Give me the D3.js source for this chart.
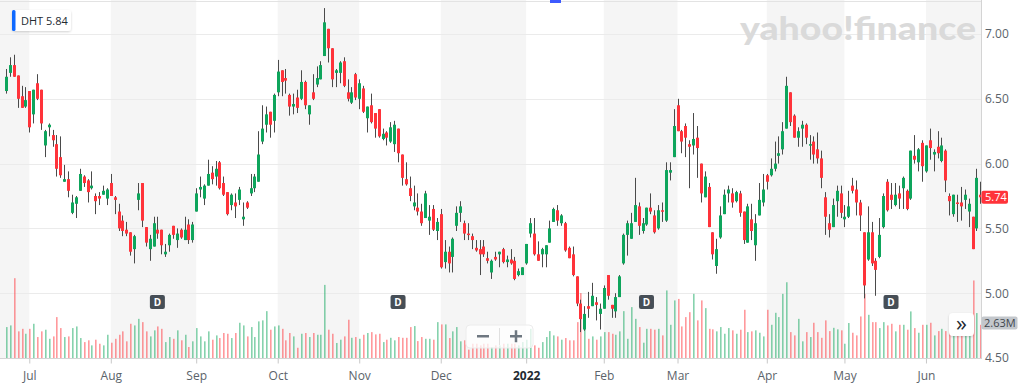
<!DOCTYPE html>
<html><head><meta charset="utf-8">
<script src="https://cdn.jsdelivr.net/npm/d3@7"></script>
<style>
html,body{margin:0;padding:0;background:#fff;}
svg{display:block;font-family:"Open Sans","Noto Sans",sans-serif;}
</style></head><body>
<svg id="chart" width="1024" height="386"></svg>
<script>
const symbol = "DHT";
const legendPrice = 5.84;
const lastPrice = 5.74;
const lastVolumeLabel = "2.63M";
const opens = [6.56,6.70,6.76,6.68,6.52,6.44,6.56,6.38,6.62,6.57,
6.14,6.28,6.22,6.15,6.05,5.86,5.88,5.62,5.69,5.79,
5.90,5.87,5.81,5.75,5.75,5.76,5.73,5.85,5.74,5.63,
5.56,5.49,5.47,5.34,5.72,5.85,5.51,5.34,5.36,5.49,
5.49,5.30,5.37,5.52,5.41,5.49,5.41,5.53,5.41,5.63,
5.80,5.73,5.83,5.93,5.90,6.01,5.85,5.78,5.68,5.70,
5.72,5.57,5.70,5.77,5.81,5.86,6.17,6.30,6.40,6.33,
6.55,6.72,6.66,6.53,6.44,6.51,6.50,6.63,6.38,6.55,
6.61,6.65,6.83,7.04,6.89,6.70,6.70,6.79,6.55,6.47,
6.69,6.50,6.58,6.35,6.45,6.39,6.42,6.19,6.24,6.17,
6.15,6.27,6.07,5.88,5.81,5.67,5.66,5.63,5.58,5.56,
5.65,5.48,5.61,5.24,5.32,5.28,5.52,5.62,5.54,5.46,
5.44,5.35,5.34,5.36,5.27,5.16,5.28,5.30,5.34,5.24,
5.26,5.25,5.14,5.14,5.23,5.46,5.46,5.30,5.30,5.30,
5.39,5.55,5.64,5.54,5.54,5.35,5.30,5.13,4.92,4.72,
4.90,4.90,4.93,4.84,4.88,5.14,4.91,4.86,4.97,5.23,
5.45,5.42,5.55,5.67,5.48,5.53,5.66,5.60,5.50,5.64,
5.56,5.93,6.05,6.45,6.25,6.29,6.15,6.14,6.20,6.00,
5.74,5.82,5.47,5.21,5.43,5.61,5.77,5.77,5.71,5.77,
5.63,5.39,5.57,5.37,5.60,5.70,5.91,5.91,5.96,6.06,
6.11,6.27,6.55,6.37,6.20,6.27,6.30,6.14,6.17,6.11,
6.04,5.74,5.54,5.51,5.71,5.77,5.57,5.59,5.83,5.80,
5.70,5.47,5.26,5.47,5.25,5.28,5.51,5.86,5.76,5.68,
5.77,5.81,5.79,5.73,6.06,6.01,6.16,5.94,6.18,6.07,
6.13,6.02,6.10,5.75,5.61,5.70,5.70,5.72,5.63,5.59,
5.50,5.76];
const highs = [6.73,6.82,6.84,6.68,6.60,6.59,6.56,6.57,6.69,6.57,
6.26,6.31,6.26,6.22,6.21,5.99,5.94,5.76,5.75,5.96,
5.91,5.88,5.94,5.77,5.78,5.83,5.81,5.92,5.75,5.69,
5.60,5.55,5.47,5.45,5.85,5.85,5.51,5.45,5.59,5.59,
5.49,5.38,5.46,5.52,5.50,5.50,5.59,5.57,5.55,5.81,
5.90,5.84,6.03,5.98,6.02,6.02,5.90,5.78,5.77,5.77,
5.82,5.70,5.71,5.92,5.92,6.25,6.45,6.44,6.40,6.54,
6.80,6.72,6.73,6.54,6.54,6.57,6.72,6.64,6.45,6.69,
6.75,6.79,7.20,7.04,6.89,6.73,6.79,6.82,6.65,6.59,
6.70,6.65,6.60,6.44,6.54,6.39,6.42,6.27,6.25,6.32,
6.33,6.27,6.07,6.01,5.90,5.83,5.77,5.69,5.79,5.68,
5.68,5.58,5.65,5.41,5.36,5.43,5.67,5.71,5.56,5.54,
5.46,5.41,5.41,5.41,5.32,5.26,5.32,5.32,5.35,5.29,
5.34,5.28,5.19,5.20,5.38,5.58,5.58,5.40,5.35,5.37,
5.56,5.66,5.68,5.61,5.55,5.36,5.36,5.13,4.95,4.90,
5.01,5.08,4.97,4.92,5.06,5.14,4.91,5.00,5.14,5.46,
5.56,5.62,5.89,5.70,5.58,5.66,5.77,5.64,5.68,5.70,
6.01,6.01,6.42,6.50,6.26,6.31,6.18,6.39,6.29,6.00,
5.94,5.85,5.47,5.42,5.67,5.80,5.83,5.81,5.79,5.79,
5.63,5.69,5.69,5.61,5.85,5.92,5.92,6.04,6.17,6.21,
6.32,6.67,6.55,6.38,6.28,6.33,6.31,6.22,6.21,6.24,
6.10,5.78,5.61,5.73,5.83,5.83,5.68,5.79,5.89,5.87,
5.72,5.47,5.67,5.55,5.27,5.58,5.77,5.88,5.85,5.85,
5.83,5.90,5.80,6.10,6.22,6.12,6.18,6.14,6.27,6.11,
6.25,6.20,6.11,5.77,5.76,5.76,5.82,5.80,5.73,5.59,
5.96,5.86];
const lows = [6.54,6.67,6.67,6.43,6.43,6.43,6.24,6.31,6.49,6.26,
6.05,6.21,6.13,5.90,5.89,5.86,5.74,5.61,5.58,5.79,
5.82,5.70,5.80,5.61,5.68,5.76,5.68,5.75,5.61,5.48,
5.44,5.44,5.29,5.23,5.64,5.51,5.36,5.25,5.36,5.42,
5.30,5.28,5.32,5.42,5.35,5.42,5.41,5.38,5.39,5.63,
5.74,5.68,5.83,5.84,5.83,5.80,5.75,5.60,5.64,5.58,
5.68,5.52,5.65,5.75,5.78,5.86,6.15,6.24,6.20,6.24,
6.52,6.52,6.54,6.37,6.38,6.39,6.49,6.42,6.30,6.49,
6.59,6.65,6.83,6.78,6.59,6.59,6.62,6.59,6.48,6.46,
6.49,6.42,6.39,6.24,6.31,6.20,6.20,6.18,6.14,6.16,
6.09,6.01,5.83,5.83,5.71,5.64,5.60,5.52,5.58,5.45,
5.48,5.41,5.19,5.19,5.16,5.16,5.48,5.55,5.41,5.41,
5.34,5.32,5.14,5.28,5.23,5.11,5.25,5.20,5.23,5.20,
5.22,5.10,5.13,5.14,5.22,5.43,5.29,5.25,5.20,5.20,
5.39,5.55,5.52,5.52,5.32,5.27,5.13,4.90,4.70,4.71,
4.81,4.90,4.79,4.72,4.88,4.95,4.81,4.81,4.97,5.22,
5.29,5.42,5.55,5.45,5.46,5.52,5.61,5.46,5.49,5.55,
5.55,5.87,6.05,6.25,6.08,6.05,5.81,6.07,5.89,5.70,
5.74,5.51,5.26,5.15,5.42,5.61,5.70,5.66,5.70,5.59,
5.38,5.39,5.41,5.25,5.60,5.67,5.80,5.90,5.94,6.00,
6.07,6.27,6.29,6.20,6.13,6.13,6.15,6.03,6.00,6.00,
5.81,5.45,5.43,5.51,5.59,5.58,5.51,5.58,5.77,5.60,
5.48,4.96,5.25,5.21,4.98,5.27,5.50,5.63,5.65,5.67,
5.65,5.65,5.64,5.72,6.00,5.94,5.86,5.93,6.03,5.94,
6.04,6.01,5.78,5.60,5.59,5.55,5.56,5.65,5.51,5.34,
5.48,5.69];
const closes = [6.67,6.76,6.67,6.50,6.43,6.49,6.28,6.57,6.50,6.31,
6.25,6.30,6.18,5.96,5.91,5.88,5.79,5.70,5.74,5.92,
5.85,5.78,5.83,5.71,5.73,5.79,5.80,5.75,5.72,5.50,
5.48,5.46,5.32,5.44,5.77,5.56,5.39,5.42,5.54,5.46,
5.37,5.32,5.45,5.45,5.46,5.43,5.49,5.41,5.53,5.77,
5.82,5.83,5.92,5.88,5.96,5.81,5.76,5.61,5.76,5.67,
5.80,5.59,5.66,5.81,5.90,6.07,6.27,6.38,6.30,6.53,
6.71,6.63,6.64,6.44,6.46,6.43,6.63,6.45,6.45,6.50,
6.66,6.76,7.09,6.89,6.65,6.72,6.78,6.60,6.50,6.55,
6.51,6.62,6.40,6.44,6.32,6.27,6.21,6.23,6.20,6.28,
6.30,6.08,5.89,5.84,5.75,5.70,5.63,5.54,5.77,5.59,
5.49,5.55,5.20,5.32,5.23,5.42,5.62,5.67,5.46,5.45,
5.41,5.33,5.30,5.30,5.25,5.25,5.26,5.32,5.24,5.26,
5.23,5.11,5.17,5.20,5.38,5.54,5.30,5.25,5.34,5.37,
5.50,5.65,5.56,5.60,5.33,5.27,5.14,4.92,4.80,4.84,
4.88,4.98,4.91,4.88,5.04,4.98,4.88,4.97,5.13,5.45,
5.54,5.54,5.68,5.52,5.54,5.66,5.63,5.47,5.64,5.63,
5.95,5.95,6.29,6.25,6.17,6.20,6.13,6.19,6.12,5.77,
5.90,5.51,5.30,5.34,5.60,5.76,5.80,5.70,5.78,5.62,
5.41,5.67,5.48,5.54,5.72,5.80,5.86,5.96,6.00,6.08,
6.25,6.60,6.32,6.20,6.25,6.30,6.20,6.15,6.07,6.04,
5.89,5.59,5.49,5.68,5.79,5.62,5.59,5.67,5.79,5.70,
5.60,5.06,5.47,5.23,5.18,5.45,5.75,5.64,5.72,5.76,
5.73,5.89,5.65,6.10,6.03,6.11,5.98,6.14,6.12,6.09,
6.08,6.14,5.87,5.71,5.76,5.69,5.67,5.76,5.69,5.34,
5.89,5.74];
// volume in millions of shares
const volumes = [2.45,2.58,6.32,2.11,2.31,1.92,2.31,2.71,1.66,2.11,
2.24,1.52,1.71,3.24,2.37,1.66,1.71,2.37,2.50,1.58,
1.26,1.40,1.00,1.45,1.13,1.00,1.84,1.21,1.52,1.84,
2.11,1.32,2.71,2.58,3.10,2.84,2.11,1.71,2.19,2.50,
2.31,1.26,1.66,1.52,2.19,1.40,1.84,0.87,1.32,2.37,
1.71,1.32,2.11,1.45,1.79,1.58,1.98,1.92,1.58,1.98,
2.79,2.58,1.71,2.45,1.66,2.90,2.98,3.71,2.24,2.50,
2.58,2.31,1.40,1.98,1.71,0.81,1.92,1.98,1.66,1.98,
1.84,1.84,5.79,2.24,1.92,1.19,1.45,
1.71,3.03,1.60,1.66,1.52,1.84,1.98,2.05,1.87,1.92,
1.26,1.45,1.60,1.40,1.66,1.60,1.60,2.45,2.53,1.34,
1.66,1.52,1.52,1.45,2.84,2.66,2.66,1.58,2.11,2.45,
1.32,1.40,0.66,1.13,1.13,1.00,1.13,1.13,0.87,1.00,
1.00,1.13,1.13,1.13,1.13,1.00,1.26,1.45,2.31,1.00,
0.81,1.26,1.66,2.13,1.79,1.71,1.45,1.58,1.40,1.40,
2.84,5.14,2.31,1.52,1.71,1.45,1.71,2.05,2.05,1.92,
1.84,2.11,3.71,1.52,4.03,3.10,2.45,1.21,2.31,2.31,
2.24,2.31,1.79,5.35,2.63,4.56,4.68,
2.50,3.24,3.63,5.08,2.98,4.56,3.95,2.31,2.27,2.11,
2.45,1.92,2.37,2.19,1.92,2.24,3.82,2.05,2.11,2.19,
2.00,1.71,3.82,2.63,3.58,3.24,5.08,6.00,2.05,1.79,
3.10,1.32,2.05,1.66,2.79,2.05,1.60,2.98,2.13,2.39,
2.27,2.19,1.13,2.77,2.00,1.79,3.29,5.08,3.42,2.84,
2.84,2.37,2.84,2.58,2.71,2.11,2.63,2.63,2.24,3.69,
2.37,2.00,2.63,2.63,2.79,1.79,2.13,2.31,2.13,2.05,
1.92,1.92,1.92,1.92,1.92,6.14,3.56,2.63];
const monthLabels = ["Jul","Aug","Sep","Oct","Nov","Dec","2022","Feb","Mar","Apr","May","Jun"];
const monthStartIdx = [7,28,50,71,92,113,135,155,174,197,217,238];
const priceTicks = [4.5,5.0,5.5,6.0,6.5,7.0];
const dividendIdx = [40,102,166,229];

const W = 1024, H = 386, plotRight = 981;
const svg = d3.select("#chart");
const n = opens.length;
const data = opens.map((o,k)=>({i:k+1,o,h:highs[k],l:lows[k],c:closes[k],v:volumes[k]}));

const x = d3.scaleLinear().domain([1, n]).range([6, 980.3]);
const y = d3.scaleLinear().domain([4.5, 7.0]).range([358, 34]);
const yv = d3.scaleLinear().domain([0, 8]).range([358, 257]);

const UP = "#0ea55c", DOWN = "#ff333a";
const UPV = "rgba(14,165,92,0.5)", DOWNV = "rgba(255,51,58,0.5)";

const defs = svg.append("defs");
const f = defs.append("filter").attr("id","shadow").attr("x","-20%").attr("y","-30%")
  .attr("width","140%").attr("height","160%");
f.append("feDropShadow").attr("dx",0).attr("dy",1).attr("stdDeviation",1.2)
  .attr("flood-color","#000").attr("flood-opacity",0.18);

// month bands
const bounds = [0, ...monthStartIdx.map(i=>x(i)), plotRight];
const bands = d3.range(bounds.length-1).filter(k=>k%2===0).map(k=>[bounds[k], bounds[k+1]]);
svg.append("g").selectAll("rect").data(bands).join("rect")
  .attr("x", d=>d[0]).attr("y", 0).attr("width", d=>d[1]-d[0]).attr("height", 359)
  .attr("fill", "#f5f5f5");

// top border
svg.append("line").attr("x1",0).attr("x2",plotRight).attr("y1",1.5).attr("y2",1.5)
  .attr("stroke","#e3e3e3").attr("stroke-width",1);
svg.append("rect").attr("x",550).attr("y",0).attr("width",11).attr("height",3).attr("fill","#3d5afe");

// horizontal grid
svg.append("g").selectAll("line").data(priceTicks).join("line")
  .attr("x1",0).attr("x2",plotRight)
  .attr("y1",d=>Math.round(y(d))+0.5).attr("y2",d=>Math.round(y(d))+0.5)
  .attr("stroke","#ebebeb");

// watermark
svg.append("text").attr("x",740).attr("y",40).text("yahoo!finance")
  .attr("font-family","Lato, 'Open Sans', sans-serif").attr("font-weight",900)
  .attr("font-size",32).attr("fill","#dadada")
  .attr("textLength",236).attr("lengthAdjust","spacingAndGlyphs");

// volume bars
svg.append("g").selectAll("rect").data(data).join("rect")
  .attr("x", d=>Math.round(x(d.i))).attr("width",1.6)
  .attr("y", d=>yv(d.v)).attr("height", d=>358-yv(d.v))
  .attr("fill", d=>d.c>=d.o?UPV:DOWNV);

// wicks
svg.append("g").selectAll("line").data(data).join("line")
  .attr("x1", d=>Math.round(x(d.i))+0.5).attr("x2", d=>Math.round(x(d.i))+0.5)
  .attr("y1", d=>y(d.h)).attr("y2", d=>y(d.l))
  .attr("stroke","#4a4a4a").attr("stroke-width",1);

// bodies
svg.append("g").selectAll("rect").data(data).join("rect")
  .attr("x", d=>Math.round(x(d.i))-1).attr("width",3)
  .attr("y", d=>y(Math.max(d.o,d.c)))
  .attr("height", d=>Math.max(1.5, Math.abs(y(d.o)-y(d.c))))
  .attr("fill", d=>d.c>=d.o?UP:DOWN);

// right axis
const yAxis = d3.axisRight(y).tickValues(priceTicks).tickSize(0).tickPadding(4)
  .tickFormat(d=>d.toFixed(2));
const gy = svg.append("g").attr("transform",`translate(${plotRight},0)`).call(yAxis);
gy.select(".domain").remove();
gy.selectAll("text").attr("font-size",12).attr("fill","#5b636a")
  .attr("font-family","'Open Sans',sans-serif");
svg.append("line").attr("x1",plotRight+0.5).attr("x2",plotRight+0.5).attr("y1",0).attr("y2",359)
  .attr("stroke","#d4d4d4");

// bottom axis
const xAxis = d3.axisBottom(x).tickValues(monthStartIdx).tickSize(5).tickPadding(8)
  .tickFormat((d,k)=>monthLabels[k]);
const gx = svg.append("g").attr("transform","translate(0,358.5)").call(xAxis);
gx.select(".domain").attr("d",`M0,0H${plotRight}`).attr("stroke","#d4d4d4");
gx.selectAll(".tick line").attr("stroke","#c8c8c8");
gx.selectAll("text").attr("font-size",12).attr("fill","#5b636a")
  .attr("font-family","'Open Sans',sans-serif")
  .attr("font-weight",(d,k)=>monthLabels[k]==="2022"?700:400)
  .attr("fill",(d,k)=>monthLabels[k]==="2022"?"#232a31":"#5b636a");

// dividend markers
const dg = svg.append("g").selectAll("g").data(dividendIdx).join("g")
  .attr("transform", d=>`translate(${x(d)},302)`);
dg.append("rect").attr("x",-7.5).attr("y",-7).attr("width",15).attr("height",14).attr("rx",2)
  .attr("fill","#464e56");
dg.append("text").attr("text-anchor","middle").attr("y",4).text("D")
  .attr("font-size",10).attr("font-weight",700).attr("fill","#fff");

// zoom control
const zc = svg.append("g").attr("transform","translate(466,325)");
zc.append("rect").attr("width",67).attr("height",23).attr("rx",4)
  .attr("fill","rgba(255,255,255,0.75)").attr("stroke","#ececec");
zc.append("line").attr("x1",33.5).attr("x2",33.5).attr("y1",3).attr("y2",20).attr("stroke","#e0e0e0");
zc.append("rect").attr("x",11).attr("y",10).attr("width",12).attr("height",2.5).attr("fill","#6e7780");
zc.append("rect").attr("x",44).attr("y",10).attr("width",12).attr("height",2.5).attr("fill","#6e7780");
zc.append("rect").attr("x",48.75).attr("y",5.25).attr("width",2.5).attr("height",12).attr("fill","#6e7780");

// right-side "»" button
const rb = svg.append("g").attr("transform","translate(949,313)");
rb.append("rect").attr("width",25).attr("height",23).attr("rx",4).attr("fill","#fff")
  .attr("filter","url(#shadow)");
rb.append("text").attr("x",12.5).attr("y",17.5).attr("text-anchor","middle").text("»")
  .attr("font-size",22).attr("fill","#232a31");

// last price tag
const py = y(lastPrice);
svg.append("rect").attr("x",plotRight+0.5).attr("y",py-6.5).attr("width",26.5).attr("height",13)
  .attr("rx",2).attr("fill",DOWN);
svg.append("text").attr("x",plotRight+4).attr("y",py+4).text(lastPrice.toFixed(2))
  .attr("font-size",11).attr("fill","#fff");

// last volume tag
svg.append("rect").attr("x",plotRight+0.5).attr("y",323-6.5).attr("width",36).attr("height",13)
  .attr("rx",2).attr("fill","#c3c7cc");
svg.append("text").attr("x",plotRight+3).attr("y",323+4).text(lastVolumeLabel)
  .attr("font-size",11).attr("fill","#3f464d");

// legend box
const lg = svg.append("g").attr("transform","translate(12,10)");
lg.append("rect").attr("width",59).attr("height",21).attr("rx",3).attr("fill","#fff")
  .attr("filter","url(#shadow)");
lg.append("rect").attr("width",3.5).attr("height",21).attr("rx",1.5).attr("fill","#0f69ff");
lg.append("text").attr("x",9).attr("y",15).text(`${symbol} ${legendPrice.toFixed(2)}`)
  .attr("font-size",11).attr("fill","#232a31");
</script>
</body></html>
